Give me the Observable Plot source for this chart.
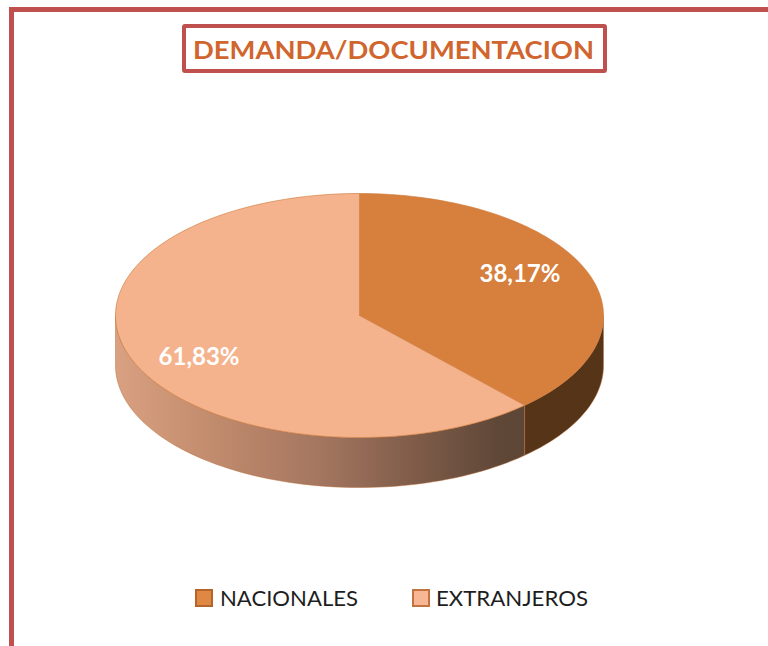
<!DOCTYPE html>
<html>
<head>
<meta charset="utf-8">
<script src="https://cdn.jsdelivr.net/npm/d3@7"></script>
<script src="https://cdn.jsdelivr.net/npm/@observablehq/plot@0.6"></script>
<style>
  html, body { margin: 0; padding: 0; background: #fff; width: 768px; height: 646px; overflow: hidden; }
  #chart { position: absolute; left: 0; top: 0; }
  #frame { position: absolute; left: 9px; top: 7px; width: 820px; height: 700px;
           border-left: 5px solid #C0504D; border-top: 5px solid #C0504D; box-sizing: border-box; }
  #titlebox { position: absolute; left: 182px; top: 24px; width: 425px; height: 49px;
              border: 4px solid #C0504D; border-radius: 3px; box-sizing: border-box; background: #fff; }
  .overlay { position: absolute; left: 0; top: 0; }
</style>
</head>
<body>
<div id="chart"></div>
<div id="frame"></div>
<div id="titlebox"></div>
<svg class="overlay" width="768" height="646" id="texts"></svg>
<script>
// ---- data ----
const title = "DEMANDA/DOCUMENTACION";
const categories = ["NACIONALES", "EXTRANJEROS"];
const values = [38.17, 61.83];
const labels = ["38,17%", "61,83%"];
const topColors = ["#D77F3C", "#F4B38D"];
const sideColors = ["#553418", "url(#sideGrad)"];
const legendFill = ["#DE8843", "#F8B794"];
const legendStroke = ["#B5642B", "#C4733F"];

// ---- geometry (unit ellipse, tilted) ----
const tilt = 0.5, depth = 0.205;
const total = d3.sum(values);
let acc = 0;
const slices = values.map((v, i) => {
  const a0 = acc, a1 = acc + v / total * 2 * Math.PI;
  acc = a1;
  return {i, a0, a1};
});
const ex = a => Math.sin(a), ey = a => tilt * Math.cos(a);
const N = 200;
const topPts = [];
slices.forEach(s => {
  topPts.push({k: s.i, x: 0, y: 0});
  const n = Math.max(2, Math.ceil(N * (s.a1 - s.a0) / (2 * Math.PI)));
  for (let j = 0; j <= n; j++) {
    const a = s.a0 + (s.a1 - s.a0) * j / n;
    topPts.push({k: s.i, x: ex(a), y: ey(a)});
  }
  topPts.push({k: s.i, x: 0, y: 0});
});
const sidePts = [];
slices.forEach(s => {
  const lo = Math.max(s.a0, Math.PI / 2), hi = Math.min(s.a1, 3 * Math.PI / 2);
  if (lo >= hi) return;
  const n = Math.max(2, Math.ceil(N * (hi - lo) / (2 * Math.PI)));
  const pts = [];
  for (let j = 0; j <= n; j++) { const a = lo + (hi - lo) * j / n; pts.push({k: s.i, x: ex(a), y: ey(a)}); }
  for (let j = n; j >= 0; j--) { const a = lo + (hi - lo) * j / n; pts.push({k: s.i, x: ex(a), y: ey(a) - depth}); }
  pts.push(pts[0]);
  sidePts.push(...pts);
});
const labelShift = -6 * Math.PI / 180, labelR = 0.74;
const labelData = slices.map(s => {
  const a = (s.a0 + s.a1) / 2 + labelShift;
  return {text: labels[s.i], x: labelR * ex(a), y: labelR * ey(a)};
});

// ---- scales: 244 px per unit, center at (359, 315) ----
const W = 768, H = 646, cx = 359, cy = 315, k = 244;

const defs = () => {
  const d = d3.create("svg:defs");
  const g = d.append("linearGradient").attr("id", "sideGrad")
    .attr("x1", 0).attr("x2", 1).attr("y1", 0).attr("y2", 0);
  [[0, "#D9A181"], [0.25, "#C08A6C"], [0.5, "#A47660"], [0.75, "#7C5A47"], [0.93, "#604838"], [1, "#5E4636"]]
    .forEach(([o, c]) => g.append("stop").attr("offset", o).attr("stop-color", c));
  return d.node();
};

const plot = Plot.plot({
  width: W, height: H,
  margin: 0,
  style: {background: "transparent"},
  x: {domain: [-cx / k, (W - cx) / k], axis: null},
  y: {domain: [-(H - cy) / k, cy / k], axis: null},
  marks: [
    defs,
    ...slices.map(s => Plot.line(sidePts, {
      filter: d => d.k === s.i, x: "x", y: "y",
      fill: sideColors[s.i], stroke: "#B86E38", strokeWidth: 0.6, strokeOpacity: 0.8
    })),
    ...slices.map(s => Plot.line(topPts, {
      filter: d => d.k === s.i, x: "x", y: "y",
      fill: topColors[s.i], stroke: "#CF7A3C", strokeWidth: 0.8, strokeOpacity: 0.8
    })),
    Plot.text(labelData, {
      x: "x", y: "y", text: "text", fill: "white",
      fontSize: 24, fontWeight: "bold", fontFamily: "Lato", textAnchor: "middle", lineAnchor: "middle"
    })
  ]
});
document.getElementById("chart").appendChild(plot);

// ---- title and legend as text ----
const t = d3.select("#texts");
t.append("text").attr("x", 193).attr("y", 59).attr("textLength", 401).attr("lengthAdjust", "spacingAndGlyphs")
  .attr("font-family", "Lato").attr("font-weight", "bold").attr("font-size", 25.5).attr("fill", "#D0652E")
  .text(title);
const legX = [195, 412], legTextX = [220, 436], legLen = [138, 152];
categories.forEach((c, i) => {
  t.append("rect").attr("x", legX[i] + 1).attr("y", 590).attr("width", 16).attr("height", 16)
    .attr("fill", legendFill[i]).attr("stroke", legendStroke[i]).attr("stroke-width", 2);
  t.append("text").attr("x", legTextX[i]).attr("y", 606).attr("textLength", legLen[i]).attr("lengthAdjust", "spacingAndGlyphs")
    .attr("font-family", "Lato").attr("font-size", 21.5).attr("fill", "#1E1E1E").text(c);
});
</script>
</body>
</html>
